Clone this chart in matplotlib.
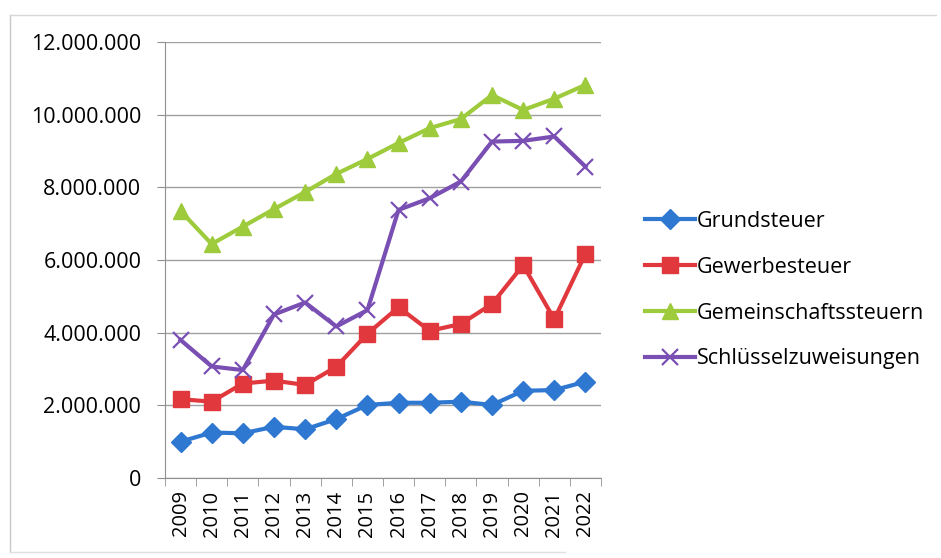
import numpy as np
import matplotlib.pyplot as plt
from matplotlib.ticker import FuncFormatter, FixedLocator

plt.rcParams['font.family'] = ['Open Sans', 'DejaVu Sans']

jahre = ['2009', '2010', '2011', '2012', '2013', '2014', '2015',
         '2016', '2017', '2018', '2019', '2020', '2021', '2022']

grundsteuer = [1.00, 1.25, 1.23, 1.41, 1.34, 1.62, 2.01,
               2.07, 2.07, 2.10, 2.01, 2.40, 2.42, 2.65]
gewerbesteuer = [2.17, 2.10, 2.60, 2.68, 2.56, 3.06, 3.97,
                 4.70, 4.05, 4.24, 4.79, 5.86, 4.37, 6.17]
gemeinschaft = [7.35, 6.44, 6.92, 7.40, 7.87, 8.37, 8.78,
                9.22, 9.63, 9.88, 10.54, 10.13, 10.44, 10.82]
schluessel = [3.80, 3.07, 2.97, 4.50, 4.83, 4.17, 4.62,
              7.38, 7.70, 8.16, 9.26, 9.28, 9.40, 8.57]

mio = 1e6
x = np.arange(len(jahre))

fig = plt.figure(figsize=(9.41, 5.58), dpi=100)
ax = fig.add_axes([0.1753, 0.1434, 0.4634, 0.7813])

ax.plot(x, np.array(grundsteuer) * mio, color='#2f78d2', lw=3, marker='D',
        ms=10, label='Grundsteuer')
ax.plot(x, np.array(gewerbesteuer) * mio, color='#e0383d', lw=3, marker='s',
        ms=12, label='Gewerbesteuer')
ax.plot(x, np.array(gemeinschaft) * mio, color='#9dcb3c', lw=3, marker='^',
        ms=11, label='Gemeinschaftssteuern')
ax.plot(x, np.array(schluessel) * mio, color='#7a4fb3', lw=3, marker='x',
        ms=12, mew=1.6, label='Schlüsselzuweisungen')

ax.set_xlim(-0.5, len(jahre) - 0.5)
ax.set_ylim(0, 12e6)
ax.set_yticks(np.arange(0, 12e6 + 1, 2e6))
ax.yaxis.set_major_formatter(FuncFormatter(lambda v, p: f'{v:,.0f}'.replace(',', '.')))
ax.grid(axis='y', color='#a0a0a0', lw=1)
ax.set_axisbelow(True)

ax.set_xticks(x)
ax.set_xticklabels(jahre, rotation=90)
ax.xaxis.set_minor_locator(FixedLocator(np.arange(-0.5, len(jahre), 1)))
ax.tick_params(axis='x', which='major', length=0, pad=9, labelsize=14.5)
ax.tick_params(axis='x', which='minor', length=6, color='#909090')
ax.tick_params(axis='y', length=6, color='#909090', labelsize=15.5, pad=11)

for s in ['top', 'right']:
    ax.spines[s].set_visible(False)
for s in ['left', 'bottom']:
    ax.spines[s].set_color('#909090')

ax.legend(loc='center left', bbox_to_anchor=(0.665, 0.48), bbox_transform=fig.transFigure,
          frameon=False, fontsize=15.5, handlelength=2.3, handletextpad=0.1,
          labelspacing=1.15)

# Rahmen des Diagramms
fig.add_artist(plt.Line2D([0.011, 0.011], [0.01, 0.973], color='#c8c8c8', lw=1))
fig.add_artist(plt.Line2D([0.011, 0.995], [0.973, 0.973], color='#d8d8d8', lw=1))
fig.add_artist(plt.Line2D([0.011, 0.6], [0.01, 0.01], color='#e0e0e0', lw=1))

fig.savefig('out.png', dpi=100)
